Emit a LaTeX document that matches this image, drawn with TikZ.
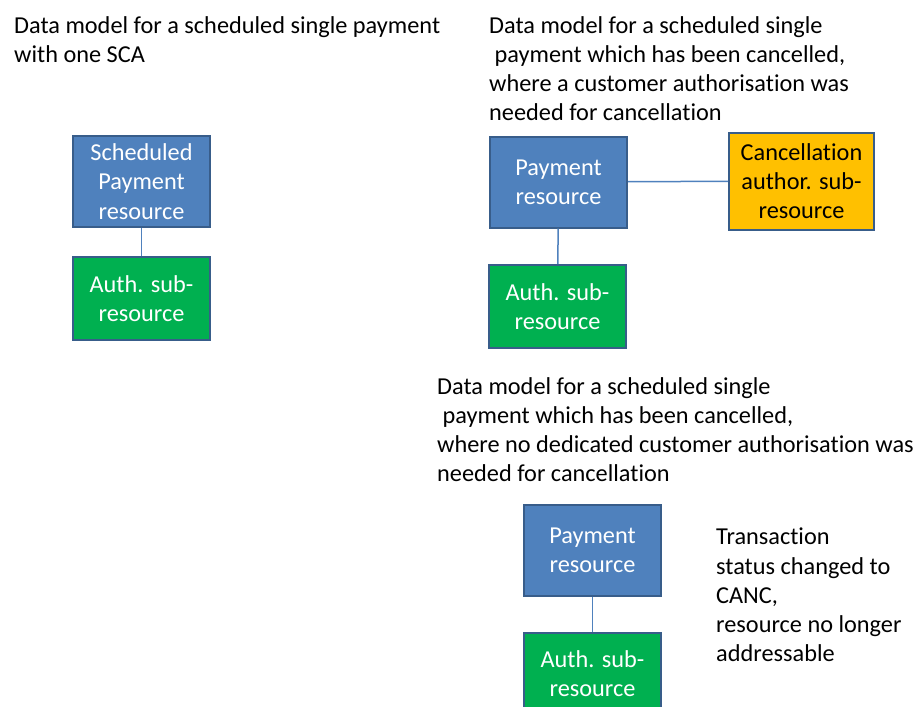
\documentclass[tikz,border=0pt]{standalone}
\usepackage{fontspec}
\setmainfont[Ligatures=NoCommon]{Carlito}
\definecolor{resblue}{HTML}{4F81BD}
\definecolor{resedge}{HTML}{385D8A}
\definecolor{authgreen}{HTML}{00B050}
\definecolor{cancorange}{HTML}{FFC000}

\begin{document}
\begin{tikzpicture}[x=1pt,y=-1pt,
  every node/.style={font=\fontsize{24.3}{29.2}\selectfont},
  resbox/.style={draw=resedge,line width=2pt,fill=resblue,text=white,align=center,
    minimum width=137pt,minimum height=91pt,inner sep=0pt},
  authbox/.style={resbox,fill=authgreen,minimum height=83pt},
  cancbox/.style={resbox,fill=cancorange,text=black,minimum width=145pt,minimum height=97pt},
  caption/.style={anchor=north west,align=left,inner sep=0pt},
  link/.style={draw=resblue,line width=1.5pt}]
  \clip (0,0) rectangle (916,707);
  \useasboundingbox (0,0) rectangle (916,707);

  % first model
  \node [caption] (capa) at (14,16) {Data model for a scheduled single payment\\with one SCA};
  \node [resbox] (paya) at (141.5,181.5) {Scheduled\\Payment\\resource};
  \node [authbox] (autha) at (141.5,298.5) {Auth. sub-\\resource};
  \draw [link] (paya) -- (autha);

  % second model
  \node [caption] (capb) at (489,16) {Data model for a scheduled single\\\ payment which has been cancelled,\\where a customer authorisation was\\needed for cancellation};
  \node [resbox] (payb) at (558.5,182) {Payment\\resource};
  \node [cancbox] (cancb) at (801.5,181) {Cancellation\\author. sub-\\resource};
  \node [authbox] (authb) at (557.5,306.5) {Auth. sub-\\resource};
  \draw [link] (payb) -- (cancb);
  \draw [link] (payb) -- (authb);

  % third model
  \node [caption] (capc) at (437,377) {Data model for a scheduled single\\\ payment which has been cancelled,\\where no dedicated customer authorisation was\\needed for cancellation};
  \node [resbox] (payc) at (592.5,550) {Payment\\resource};
  \node [authbox] (authc) at (592.5,674) {Auth. sub-\\resource};
  \draw [link] (payc) -- (authc);
  \node [caption] (statc) at (716,528) {Transaction\\status changed to\\CANC,\\resource no longer\\addressable};
\end{tikzpicture}
\end{document}
